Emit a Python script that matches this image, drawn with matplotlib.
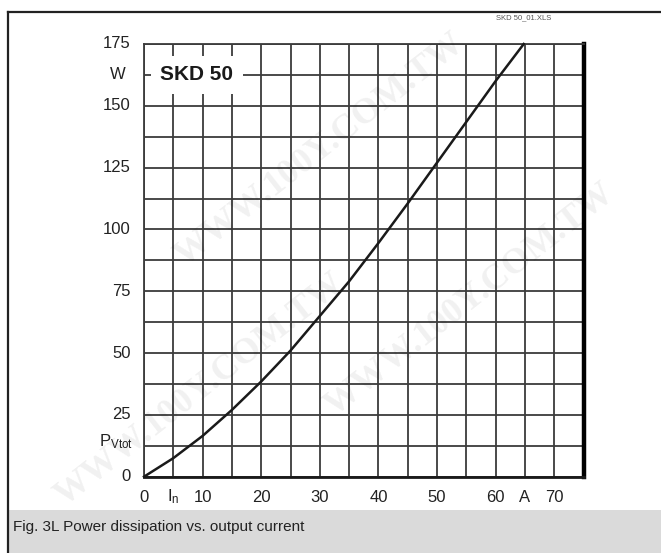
import matplotlib
matplotlib.use("Agg")
import matplotlib.pyplot as plt
from matplotlib.lines import Line2D
from matplotlib.patches import Rectangle
import matplotlib.transforms as mtransforms
import numpy as np

# values (A, W)
current_a = [0, 5, 10, 15, 20, 25, 30, 35, 40, 45, 50, 55, 60, 64.8]
power_w = [0, 7.5, 16.5, 27, 38.5, 51, 65, 79, 94.5, 110.5, 127, 143.5, 160, 175]

y_tick_vals = [0, 25, 50, 75, 100, 125, 150, 175]
x_label_pos = [0, 5, 10, 20, 30, 40, 50, 60, 65, 70]
x_label_txt = ["0", r"$\mathregular{I_n}$", "10", "20", "30", "40", "50", "60", "A", "70"]

plt.rcParams["font.family"] = ["Liberation Sans", "DejaVu Sans"]

W, H = 661, 553
fig = plt.figure(figsize=(W / 100, H / 100), dpi=100)
fig.patch.set_facecolor("white")

# plot area in pixel terms
left, right, top, bottom = 144, 583.5, 44, 476.7
ax = fig.add_axes([left / W, 1 - bottom / H, (right - left) / W, (bottom - top) / H])
ax.set_xlim(0, 75)
ax.set_ylim(0, 175)
ax.set_xticks(np.arange(0, 76, 5))
ax.set_yticks(np.arange(0, 176, 12.5))
ax.grid(True, color="#3c3c3c", lw=1.3, zorder=1)
ax.set_axisbelow(True)
ax.tick_params(length=0, labelleft=False, labelbottom=False)

for side in ("left", "top"):
    ax.spines[side].set_color("#3c3c3c")
    ax.spines[side].set_linewidth(1.3)
ax.spines["bottom"].set_color("#1a1a1a")
ax.spines["bottom"].set_linewidth(2.0)
ax.spines["right"].set_color("black")
ax.spines["right"].set_linewidth(3.2)

ax.plot(current_a, power_w, color="#1a1a1a", lw=1.8, zorder=3, clip_on=False)

# axis labels as plain text next to the frame
ytrans = mtransforms.blended_transform_factory(ax.transAxes, ax.transData)
for v in y_tick_vals:
    ax.text(-0.03, v, str(v), transform=ytrans, ha="right", va="center",
            fontsize=12, color="#222222")
ax.text(-0.06, 162.5, "W", transform=ytrans, ha="center", va="center",
        fontsize=12, color="#222222")
ax.text(-0.025, 14, r"$\mathregular{P_{Vtot}}$", transform=ytrans, ha="right",
        va="center", fontsize=12, color="#222222")

xtrans = mtransforms.blended_transform_factory(ax.transData, ax.transAxes)
for pos, txt in zip(x_label_pos, x_label_txt):
    ax.text(pos, -0.047, txt, transform=xtrans, ha="center", va="center",
            fontsize=12, color="#222222")

ax.text(2.8, 162.5, "SKD 50", fontsize=15, fontweight="bold", color="#1a1a1a",
        ha="left", va="center", zorder=4,
        bbox=dict(facecolor="white", edgecolor="none", pad=7))

# outer frame, caption band and file tag
fig.add_artist(Line2D([8 / W, 1], [1 - 12 / H] * 2, color="#222222", lw=1.6))
fig.add_artist(Line2D([8 / W] * 2, [0, 1 - 12 / H], color="#222222", lw=1.6))
fig.add_artist(Rectangle((9 / W, 0), 1 - 9 / W, 43 / H, transform=fig.transFigure,
                         facecolor="#dadada", edgecolor="none", zorder=0))
fig.text(13 / W, 1 - 527 / H, "Fig. 3L Power dissipation vs. output current",
         fontsize=11, color="#222222", ha="left", va="center")
fig.text(524 / W, 1 - 18 / H, "SKD 50_01.XLS", fontsize=5.5, color="#555555",
         ha="center", va="center")

# faint watermark, kept inside the canvas
for cx, cy in [(320, 150), (470, 300), (200, 390)]:
    fig.text(cx / W, 1 - cy / H, "WWW.100Y.COM.TW", fontsize=26, fontweight="bold",
             family="Liberation Serif", color="black", alpha=0.06, rotation=38,
             ha="center", va="center", zorder=10)

fig.savefig("out.png", dpi=100)
